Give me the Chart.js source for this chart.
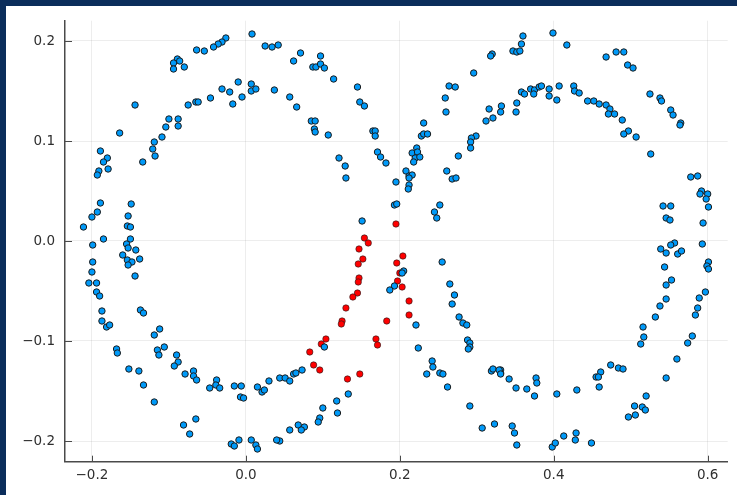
<!DOCTYPE html>
<html>
<head>
<meta charset="utf-8">
<script src="https://cdn.jsdelivr.net/npm/chart.js@4.4.1/dist/chart.umd.min.js"></script>
<style>
html, body { margin: 0; padding: 0; background: #fff; }
#wrap { position: relative; width: 737px; height: 495px; overflow: hidden; }
#wrap canvas { position: absolute; left: 0; top: 0; }
.band { position: absolute; background: #0b2d5b; }
</style>
</head>
<body>
<div id="wrap">
  <canvas id="scatter" width="737" height="495"></canvas>
  <div class="band" style="left:0;top:0;width:737px;height:6px"></div>
  <div class="band" style="left:0;top:0;width:6px;height:495px"></div>
</div>
<script>
// tick positions
const xTicks = [-0.2, 0.0, 0.2, 0.4, 0.6];
const yTicks = [-0.2, -0.1, 0.0, 0.1, 0.2];

// blue points (x, y)
const bluePts = [
  [0.008,0.207],[0.025,0.195],[0.034,0.194],[0.042,0.196],[-0.026,0.203],[-0.031,0.199],[-0.036,0.197],
  [-0.042,0.194],[-0.054,0.190],[-0.064,0.191],[-0.089,0.182],[-0.094,0.178],[-0.086,0.180],[-0.094,0.172],
  [-0.080,0.174],[-0.144,0.136],[-0.164,0.108],[-0.189,0.090],[-0.180,0.083],[-0.185,0.079],[-0.191,0.070],
  [-0.193,0.066],[-0.179,0.072],[-0.189,0.038],[-0.193,0.029],[-0.200,0.024],[-0.211,0.014],[-0.185,0.002],
  [-0.199,-0.004],[-0.149,0.037],[-0.153,0.025],[-0.154,0.015],[-0.150,0.014],[-0.150,0.002],[-0.155,-0.003],
  [-0.134,0.079],[-0.118,0.085],[-0.121,0.092],[-0.119,0.099],[-0.109,0.104],[-0.104,0.114],[-0.100,0.122],
  [-0.088,0.122],[-0.088,0.115],[-0.075,0.136],[-0.065,0.139],[-0.062,0.139],[-0.046,0.143],[-0.031,0.152],
  [-0.021,0.149],[-0.017,0.137],[-0.010,0.159],[-0.005,0.144],[0.007,0.157],[0.007,0.150],[0.013,0.152],
  [0.037,0.151],[0.057,0.144],
  [0.062,0.180],[0.071,0.188],[0.097,0.185],[0.087,0.174],[0.091,0.174],[0.097,0.177],[0.102,0.173],
  [0.114,0.162],[0.145,0.154],[0.148,0.139],[0.154,0.135],[0.165,0.110],[0.168,0.110],[0.168,0.105],
  [0.171,0.089],[0.175,0.084],[0.182,0.078],[0.195,0.059],[0.193,0.036],[0.196,0.037],[0.151,0.020],
  [0.066,0.134],[0.085,0.120],[0.090,0.120],[0.089,0.112],[0.090,0.109],[0.107,0.106],[0.121,0.083],
  [0.129,0.075],[0.130,0.063],
  [0.320,0.187],[0.318,0.185],[0.296,0.168],[0.264,0.155],[0.272,0.154],[0.259,0.143],[0.260,0.129],
  [0.231,0.118],[0.228,0.105],[0.231,0.107],[0.236,0.107],[0.216,0.088],[0.222,0.093],[0.223,0.089],
  [0.220,0.083],[0.226,0.084],[0.218,0.079],[0.208,0.070],[0.212,0.065],[0.216,0.066],[0.212,0.063],
  [0.212,0.056],[0.211,0.052],[0.316,0.132],[0.321,0.123],[0.312,0.120],[0.332,0.135],[0.331,0.129],
  [0.299,0.105],[0.293,0.103],[0.292,0.099],[0.292,0.093],[0.276,0.085],[0.261,0.070],[0.268,0.062],
  [0.273,0.063],[0.252,0.036],[0.245,0.029],[0.248,0.023],
  [0.399,0.208],[0.417,0.196],[0.360,0.205],[0.358,0.197],[0.347,0.190],[0.352,0.189],[0.356,0.190],
  [0.468,0.184],[0.481,0.189],[0.491,0.189],[0.496,0.176],[0.503,0.173],[0.525,0.147],[0.538,0.143],
  [0.540,0.140],[0.552,0.131],[0.555,0.126],[0.565,0.118],[0.564,0.116],[0.526,0.087],[0.578,0.064],
  [0.587,0.065],[0.592,0.050],[0.590,0.047],[0.600,0.047],[0.598,0.042],[0.601,0.034],[0.594,0.018],
  [0.593,-0.003],[0.352,0.138],[0.351,0.129],[0.358,0.149],[0.362,0.147],[0.370,0.152],[0.375,0.151],
  [0.374,0.147],[0.381,0.154],[0.384,0.155],[0.394,0.152],[0.394,0.145],[0.404,0.141],[0.407,0.155],
  [0.426,0.155],[0.427,0.150],[0.433,0.148],[0.444,0.140],[0.452,0.140],[0.459,0.137],[0.468,0.136],
  [0.473,0.132],[0.471,0.127],[0.479,0.127],[0.489,0.121],[0.497,0.110],[0.491,0.107],[0.507,0.104],
  [0.542,0.035],[0.552,0.035],[0.546,0.023],[0.551,0.021],[0.557,-0.002],[0.552,-0.004],
  [0.539,-0.008],[0.546,-0.012],[0.561,-0.013],[0.566,-0.010],[0.601,-0.021],[0.599,-0.025],[0.601,-0.028],
  [0.544,-0.026],[0.546,-0.044],[0.553,-0.039],[0.546,-0.058],[0.538,-0.065],[0.532,-0.076],[0.597,-0.051],
  [0.589,-0.057],[0.587,-0.067],[0.584,-0.074],[0.580,-0.095],[0.574,-0.102],[0.560,-0.118],[0.546,-0.137],
  [0.516,-0.086],[0.517,-0.096],[0.513,-0.103],[0.520,-0.155],[0.505,-0.165],[0.515,-0.166],[0.519,-0.169],
  [0.506,-0.174],[0.497,-0.176],[0.474,-0.124],[0.484,-0.127],[0.490,-0.128],[0.461,-0.131],[0.455,-0.136],
  [0.458,-0.136],[0.459,-0.146],[0.430,-0.149],[0.404,-0.153],[0.377,-0.137],[0.378,-0.142],[0.375,-0.155],
  [0.365,-0.148],[0.351,-0.147],[0.342,-0.138],[0.331,-0.129],[0.331,-0.132],[0.346,-0.185],[0.349,-0.192],
  [0.352,-0.204],[0.398,-0.206],[0.402,-0.202],[0.413,-0.195],[0.428,-0.199],[0.429,-0.192],[0.449,-0.202],
  [0.205,-0.030],[0.203,-0.032],[0.193,-0.045],[0.187,-0.049],[0.221,-0.084],[0.224,-0.107],[0.242,-0.120],
  [0.243,-0.126],[0.235,-0.133],[0.252,-0.132],[0.256,-0.133],[0.262,-0.146],[0.291,-0.165],[0.307,-0.187],
  [0.323,-0.183],[0.255,-0.021],[0.265,-0.043],[0.271,-0.054],[0.268,-0.063],[0.277,-0.076],[0.282,-0.082],
  [0.287,-0.084],[0.288,-0.099],[0.291,-0.102],[0.291,-0.106],[0.289,-0.108],[0.319,-0.130],[0.321,-0.128],
  [0.329,-0.129],[0.331,-0.133],[0.102,-0.106],[0.044,-0.137],[0.051,-0.137],[0.057,-0.140],[0.062,-0.133],
  [0.065,-0.132],[0.073,-0.129],[0.133,-0.153],[0.118,-0.160],[0.119,-0.172],[0.100,-0.167],[0.096,-0.177],
  [0.094,-0.181],[0.068,-0.184],[0.076,-0.186],[0.072,-0.189],[0.057,-0.189],[0.044,-0.200],
  [-0.199,-0.021],[-0.200,-0.031],[-0.204,-0.042],[-0.194,-0.042],[-0.194,-0.051],[-0.190,-0.055],[-0.187,-0.070],
  [-0.187,-0.080],[-0.181,-0.086],[-0.177,-0.084],[-0.168,-0.108],[-0.167,-0.112],[-0.152,-0.128],[-0.139,-0.130],
  [-0.133,-0.144],[-0.119,-0.161],[-0.153,-0.007],[-0.143,-0.009],[-0.160,-0.014],[-0.154,-0.019],[-0.148,-0.021],
  [-0.153,-0.024],[-0.138,-0.018],[-0.144,-0.035],[-0.137,-0.069],[-0.133,-0.072],[-0.119,-0.094],[-0.112,-0.088],
  [-0.115,-0.109],[-0.113,-0.114],[-0.106,-0.106],[-0.090,-0.114],[-0.088,-0.121],[-0.093,-0.125],[-0.079,-0.133],
  [-0.068,-0.130],[-0.068,-0.135],[-0.064,-0.139],[-0.047,-0.147],[-0.038,-0.139],[-0.039,-0.144],[-0.034,-0.147],
  [-0.015,-0.145],[-0.006,-0.145],[-0.007,-0.156],[-0.003,-0.157],[0.015,-0.146],[0.021,-0.151],[0.024,-0.149],
  [0.030,-0.140],[-0.081,-0.184],[-0.073,-0.193],[-0.065,-0.178],[-0.019,-0.203],[-0.015,-0.205],[-0.009,-0.199],
  [0.007,-0.199],[0.013,-0.204],[0.015,-0.208],[0.040,-0.199]
];

// red points (x, y)
const redPts = [
  [0.195,0.017],[0.154,0.003],[0.159,-0.002],[0.147,-0.008],[0.152,-0.018],[0.146,-0.023],[0.147,-0.037],
  [0.146,-0.041],[0.145,-0.052],[0.139,-0.056],[0.130,-0.067],[0.125,-0.080],[0.124,-0.083],[0.104,-0.098],
  [0.098,-0.103],[0.083,-0.111],[0.088,-0.124],[0.096,-0.129],[0.132,-0.138],[0.148,-0.133],
  [0.204,-0.015],[0.196,-0.022],[0.200,-0.032],[0.197,-0.040],[0.203,-0.046],[0.212,-0.060],[0.212,-0.074],
  [0.183,-0.080],[0.169,-0.098],[0.171,-0.104]
];

const fmt = v => {
  const s = Math.abs(v) < 1e-9 ? '0.0' : v.toFixed(1);
  return s.replace('-', '\u2212');
};

const axisColor = '#4a4a4a';
const tickFont = { family: 'DejaVu Sans', size: 13.5 };

// Plots.jl style: short tick marks pointing into the plot
const innerTicks = {
  id: 'innerTicks',
  afterDraw(chart) {
    const { ctx, chartArea, scales } = chart;
    ctx.save();
    ctx.strokeStyle = axisColor;
    ctx.lineWidth = 1;
    ctx.beginPath();
    xTicks.forEach(v => {
      const px = Math.round(scales.x.getPixelForValue(v)) + 0.5;
      ctx.moveTo(px, chartArea.bottom);
      ctx.lineTo(px, chartArea.bottom - 6);
    });
    yTicks.forEach(v => {
      const py = Math.round(scales.y.getPixelForValue(v)) + 0.5;
      ctx.moveTo(chartArea.left, py);
      ctx.lineTo(chartArea.left + 7, py);
    });
    ctx.stroke();
    ctx.restore();
  }
};

const toXY = pts => pts.map(p => ({ x: p[0], y: p[1] }));

new Chart(document.getElementById('scatter'), {
  type: 'scatter',
  data: {
    datasets: [
      {
        label: 'y1',
        data: toXY(bluePts),
        backgroundColor: '#009af9',
        borderColor: '#1b1b1b',
        borderWidth: 1,
        pointRadius: 3.2,
        order: 0
      },
      {
        label: 'y2',
        data: toXY(redPts),
        backgroundColor: '#ff0000',
        borderColor: '#1b1b1b',
        borderWidth: 0.6,
        pointRadius: 3.2,
        order: 1
      }
    ]
  },
  options: {
    responsive: false,
    animation: false,
    layout: { padding: { top: 20.7, right: 9.3, left: 0, bottom: 0 } },
    plugins: { legend: { display: false }, tooltip: { enabled: false } },
    scales: {
      x: {
        type: 'linear',
        min: -0.235,
        max: 0.626,
        afterBuildTicks: s => { s.ticks = xTicks.map(v => ({ value: v })); },
        afterFit: s => { s.height = 33.3; },
        ticks: { callback: v => fmt(v), font: tickFont, color: '#2e2e2e', padding: 6, maxRotation: 0 },
        grid: { color: 'rgba(0,0,0,0.07)', lineWidth: 1, drawTicks: false },
        border: { display: true, color: axisColor, width: 1.5 }
      },
      y: {
        type: 'linear',
        min: -0.2207,
        max: 0.2203,
        afterBuildTicks: s => { s.ticks = yTicks.map(v => ({ value: v })); },
        afterFit: s => { s.width = 65; },
        ticks: { callback: v => fmt(v), font: tickFont, color: '#2e2e2e', padding: 10 },
        grid: { color: 'rgba(0,0,0,0.07)', lineWidth: 1, drawTicks: false },
        border: { display: true, color: axisColor, width: 1.5 }
      }
    }
  },
  plugins: [innerTicks]
});
</script>
</body>
</html>
